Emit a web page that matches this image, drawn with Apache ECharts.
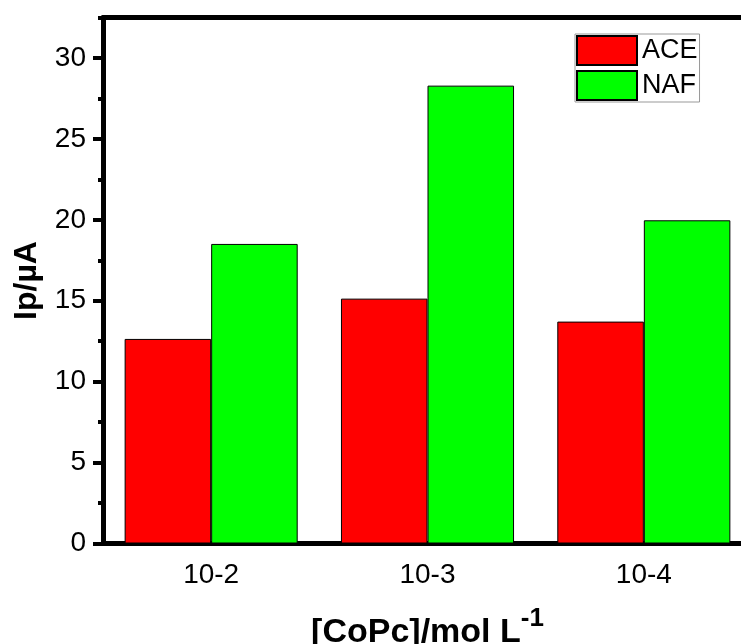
<!DOCTYPE html>
<html>
<head>
<meta charset="utf-8">
<script src="https://cdn.jsdelivr.net/npm/echarts@6/dist/echarts.min.js"></script>
<style>
  html, body { margin: 0; padding: 0; background: #fff; }
  #chart { width: 741px; height: 644px; }
</style>
</head>
<body>
<div id="chart"></div>
<script>
// CoPc concentration groups and peak currents (µA)
const categories = ['10-2', '10-3', '10-4'];
const aceValues = [12.64, 15.13, 13.71];
const nafValues = [18.51, 28.29, 19.97];
const yMajorTicks = [0, 5, 10, 15, 20, 25, 30];
const yMinorTicks = [2.5, 7.5, 12.5, 17.5, 22.5, 27.5, 32.5];
const yMin = 0;
const yMax = 32.5;

const FONT = 'Arial, "Liberation Sans", sans-serif';
const chart = echarts.init(document.getElementById('chart'), null, { renderer: 'canvas' });

const option = {
  animation: false,
  backgroundColor: '#ffffff',
  grid: {
    left: 103, top: 17.5, bottom: 100.5, right: -11,
    outerBoundsMode: 'none', containLabel: false
  },
  legend: {
    data: ['ACE', 'NAF'],
    orient: 'vertical',
    left: 575, top: 34,
    itemWidth: 60, itemHeight: 29, itemGap: 4,
    padding: [1, 2, 1, 1],
    borderColor: '#999', borderWidth: 1,
    icon: 'rect',
    textStyle: { fontFamily: FONT, fontSize: 27, color: '#000' }
  },
  xAxis: [
    {
      type: 'category', position: 'bottom', data: categories,
      axisLine: { lineStyle: { color: '#000', width: 5 } },
      axisTick: { alignWithLabel: true, length: 10, lineStyle: { color: '#000', width: 5 } },
      axisLabel: { fontFamily: FONT, fontSize: 28, color: '#000', margin: 18 },
      splitLine: { show: false },
      name: '{m|[CoPc]/mol L}{s|-1}',
      nameLocation: 'middle', nameGap: 62,
      nameTextStyle: {
        rich: {
          m: { fontFamily: FONT, fontSize: 34, fontWeight: 'bold', color: '#000', lineHeight: 44, verticalAlign: 'bottom' },
          s: { fontFamily: FONT, fontSize: 26, fontWeight: 'bold', color: '#000', lineHeight: 26, verticalAlign: 'top' }
        }
      }
    },
    {
      // short boundary ticks between categories
      type: 'category', position: 'bottom', data: categories,
      axisLine: { show: false },
      axisTick: { length: 5, lineStyle: { color: '#000', width: 4 } },
      axisLabel: { show: false },
      splitLine: { show: false }
    },
    {
      // top frame line
      type: 'category', position: 'top', data: categories,
      axisLine: { lineStyle: { color: '#000', width: 5 } },
      axisTick: { show: false },
      axisLabel: { show: false },
      splitLine: { show: false }
    }
  ],
  yAxis: [
    {
      type: 'value', position: 'left', min: yMin, max: yMax,
      axisLine: { show: true, lineStyle: { color: '#000', width: 5 } },
      axisTick: { show: true, length: 10, customValues: yMajorTicks, lineStyle: { color: '#000', width: 4 } },
      axisLabel: { fontFamily: FONT, fontSize: 28, color: '#000', margin: 17, customValues: yMajorTicks },
      splitLine: { show: false },
      name: 'Ip/µA',
      nameLocation: 'middle', nameGap: 60,
      nameTextStyle: { fontFamily: FONT, fontSize: 32, fontWeight: 'bold', color: '#000' }
    },
    {
      // minor ticks
      type: 'value', position: 'left', min: yMin, max: yMax,
      axisLine: { show: false },
      axisTick: { show: true, length: 5, customValues: yMinorTicks, lineStyle: { color: '#000', width: 4 } },
      axisLabel: { show: false },
      splitLine: { show: false }
    }
  ],
  series: [
    {
      name: 'ACE', type: 'bar', xAxisIndex: 0, yAxisIndex: 0,
      data: aceValues,
      barGap: '0%', barCategoryGap: '20%',
      itemStyle: { color: '#ff0000', borderColor: '#000', borderWidth: 1 }
    },
    {
      name: 'NAF', type: 'bar', xAxisIndex: 0, yAxisIndex: 0,
      data: nafValues,
      barGap: '0%', barCategoryGap: '20%',
      itemStyle: { color: '#00ff00', borderColor: '#000', borderWidth: 1 }
    }
  ]
};

chart.setOption(option);
</script>
</body>
</html>
